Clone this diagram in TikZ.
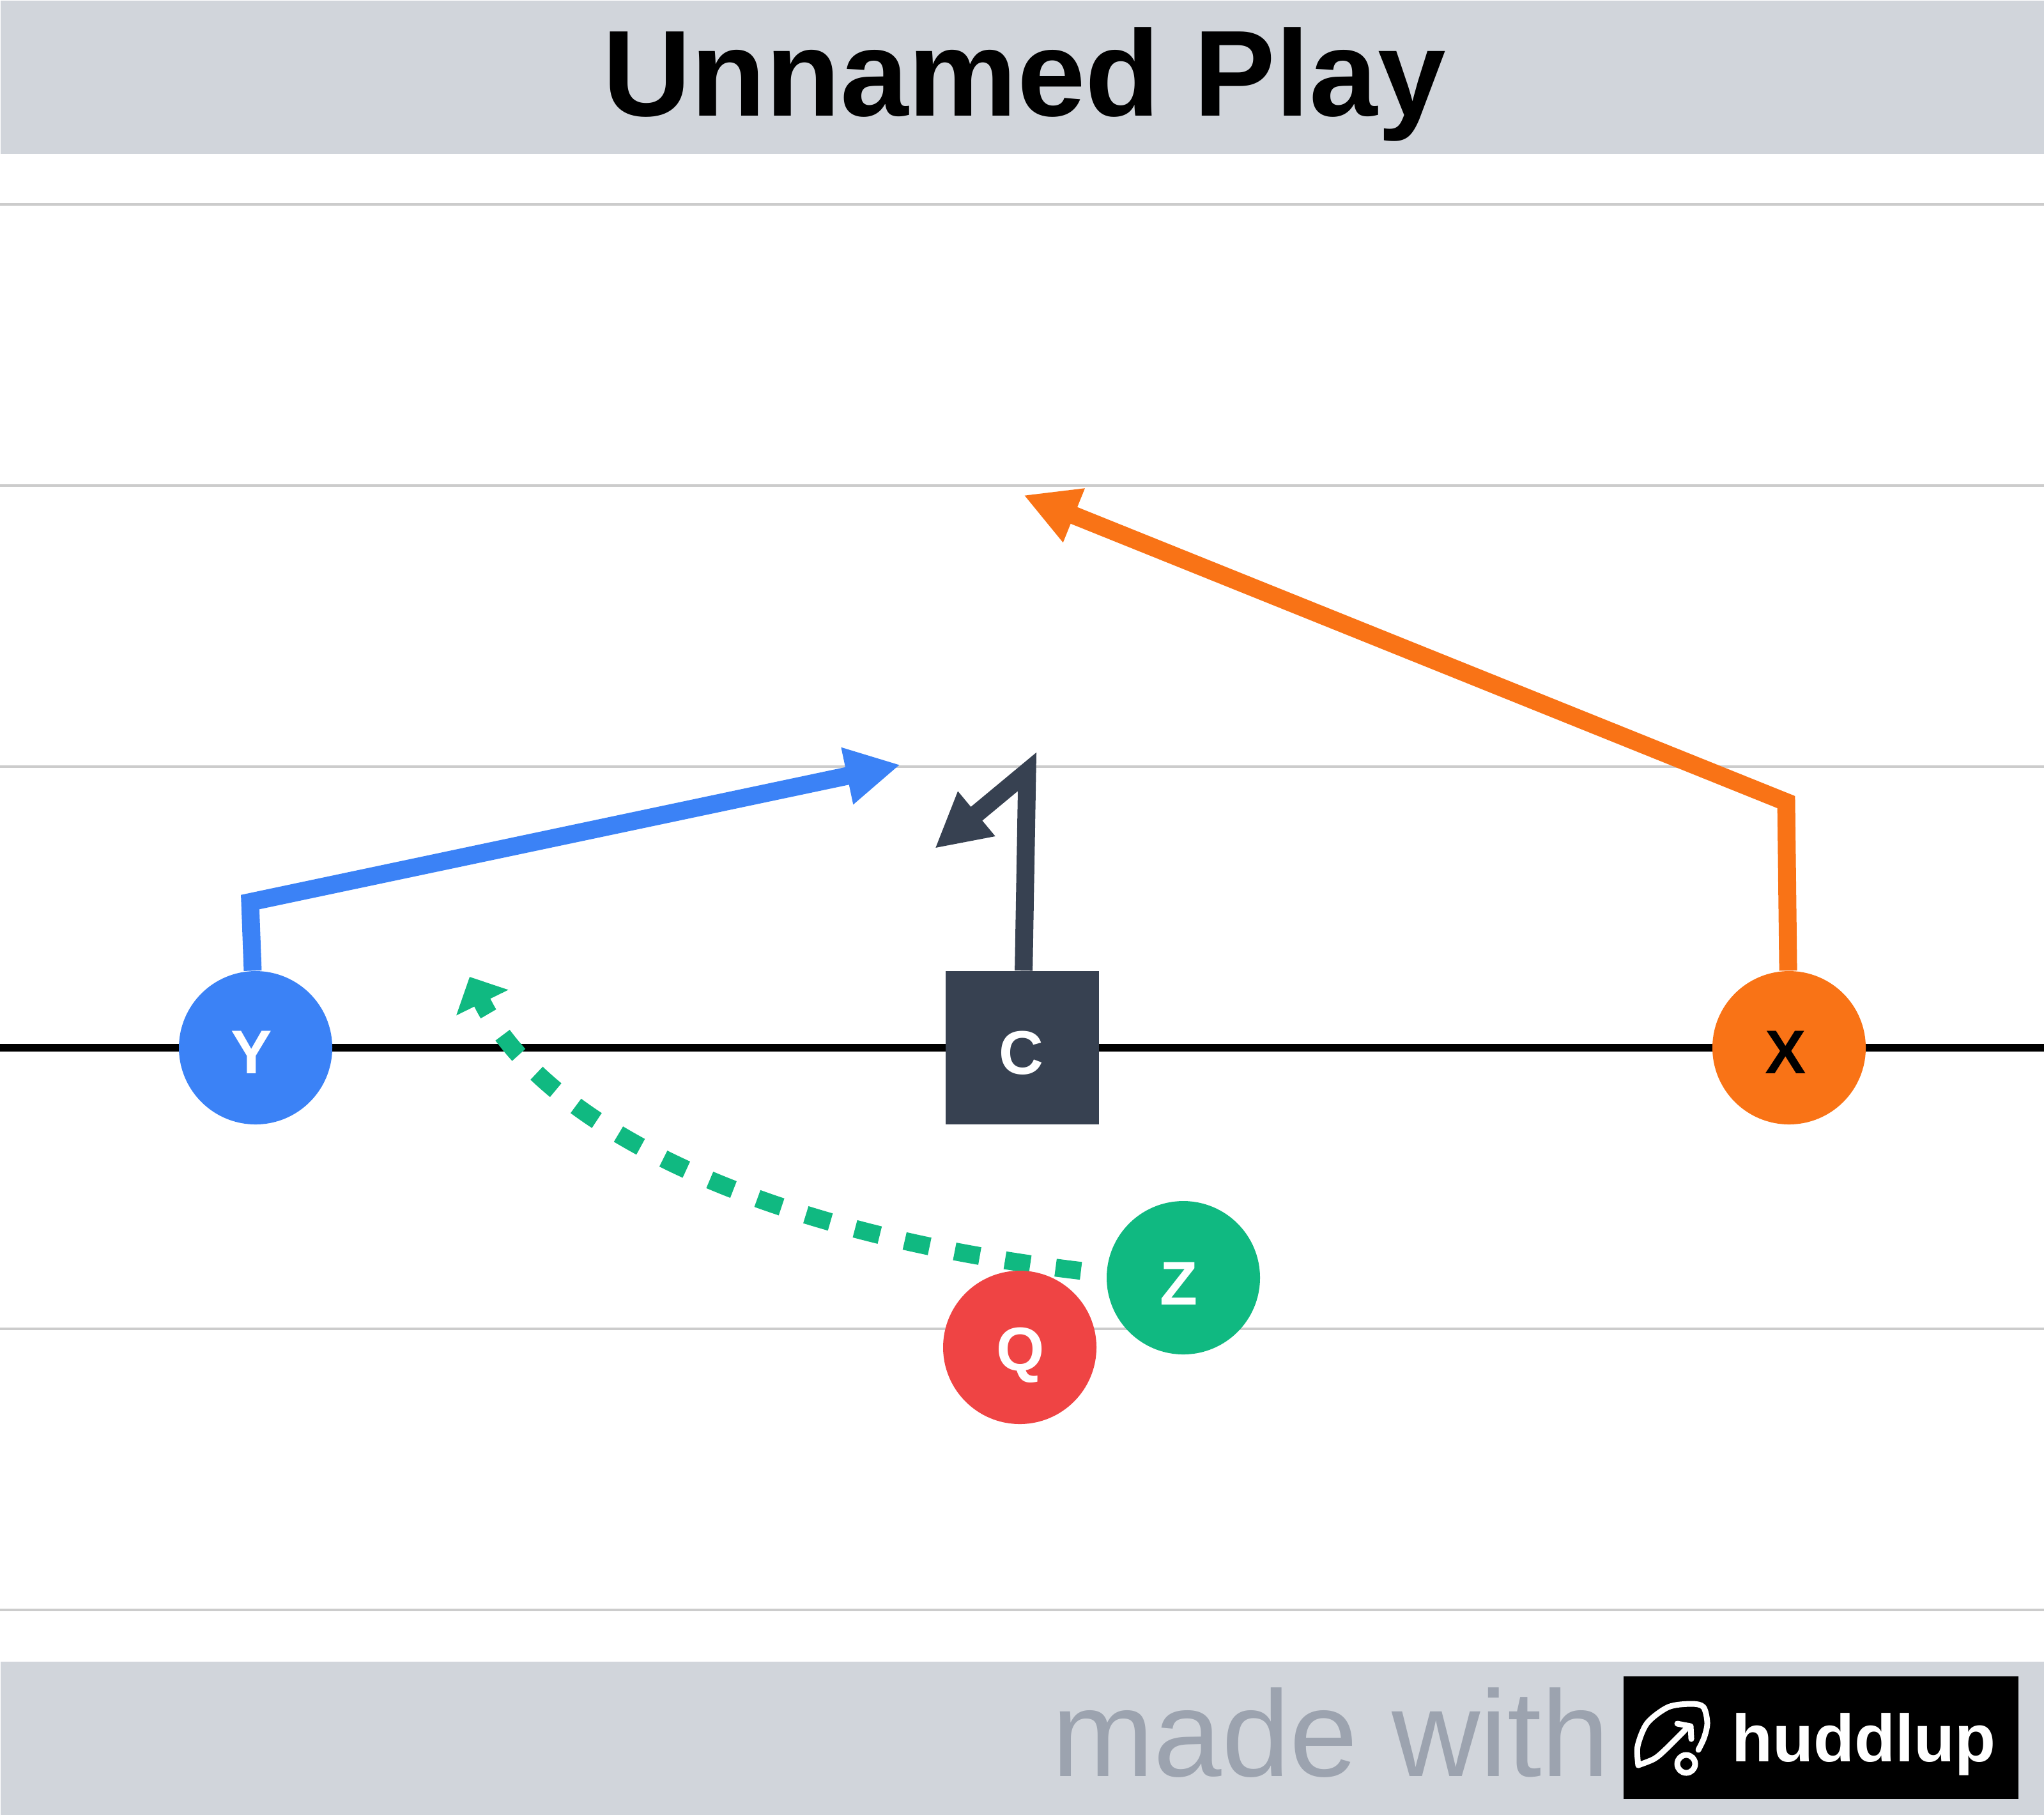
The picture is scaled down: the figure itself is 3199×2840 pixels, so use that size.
\documentclass[tikz,border=0pt]{standalone}
\usepackage{fontspec}
\setmainfont{Liberation Sans}
\usetikzlibrary{arrows.meta,backgrounds}
\definecolor{band}{HTML}{D1D5DB}
\definecolor{yard}{HTML}{CCCCCC}
\definecolor{wordmark}{HTML}{9CA3AF}
\definecolor{ycol}{HTML}{3B82F6}
\definecolor{xcol}{HTML}{F97316}
\definecolor{zcol}{HTML}{10B981}
\definecolor{qcol}{HTML}{EF4444}
\definecolor{ccol}{HTML}{374151}
\tikzset{
  bandbox/.style={fill=band,minimum width=319.9mm,minimum height=24mm,inner sep=0pt,anchor=north west},
  yardline/.style={yard,line width=0.4mm},
  player/.style={circle,fill=#1,minimum size=24mm,inner sep=0pt},
  center/.style={rectangle,fill=#1,minimum size=24mm,inner sep=0pt},
  tag/.style={font=\fontsize{27.5}{30}\selectfont\bfseries,inner sep=0pt,text=white},
  route/.style={line width=2.8mm,miter limit=10,-{Triangle[length=8.5mm,width=8.5mm]}},
  motion/.style={line width=2.8mm,dash pattern=on 4mm off 4mm,dash phase=4mm,-{Triangle[length=4.5mm,width=8.8mm]}},
  logoline/.style={white,line width=0.9mm,line cap=round,line join=round},
}
\begin{document}
\begin{tikzpicture}[x=0.1mm,y=-0.1mm]
  \useasboundingbox (0,0) rectangle (3199,2840);
  % header and footer
  \node[bandbox] (head) at (0,0) {};
  \node[bandbox] (foot) at (0,2600) {};
  \node[font=\fontsize{54.5}{60}\selectfont\bfseries,inner sep=0pt,anchor=base] (title) at (1603,181) {Unnamed Play};
  \node[font=\fontsize{54.5}{60}\selectfont,text=wordmark,inner sep=0pt,anchor=base east] (made) at (2520,2780) {made with};
  \node[fill=black,minimum width=61.8mm,minimum height=19.2mm,inner sep=0pt] (logo) at (2850,2720) {};
  \node[font=\fontsize{29.8}{32}\selectfont\bfseries,text=white,inner sep=0pt,anchor=base west] (huddlup) at (2710,2757) {huddlup};
  % logo mark
  \draw[logoline] plot[smooth] coordinates {(2564,2763) (2563,2733) (2578,2697) (2611,2672) (2647,2667) (2666,2672) (2672,2697) (2667,2720) (2658,2739)};
  \draw[logoline] plot[smooth] coordinates {(2564,2763) (2589,2753) (2607,2738) (2638,2707)};
  \draw[logoline] (2625,2698) -- (2646,2702) -- (2647,2722);
  \draw[logoline] (2639,2761) circle (14);
  % players
  \node[player=ycol,label={[tag,xshift=-0.6mm,yshift=-0.7mm]center:Y}] (Y) at (400,1640) {};
  \node[center=ccol,label={[tag,xshift=-0.2mm,yshift=-0.8mm]center:C}] (C) at (1600,1640) {};
  \node[player=xcol,label={[tag,text=black,xshift=-0.5mm,yshift=-0.7mm]center:X}] (X) at (2800,1640) {};
  \node[player=qcol,label={[tag,xshift=0.1mm,yshift=-1.2mm]center:Q}] (Q) at (1596,2109) {};
  \node[player=zcol,label={[tag,xshift=-0.7mm,yshift=-0.9mm]center:Z}] (Z) at (1852,2000) {};
  \coordinate (yTurn) at (391.5,1412);
  \coordinate (yEnd) at (1409,1197);
  \coordinate (cTurn) at (1607.5,1208);
  \coordinate (cEnd) at (1463,1328);
  \coordinate (xTurn) at (2795.5,1255.5);
  \coordinate (xEnd) at (1602,775);
  \coordinate (zEnd) at (735,1529);
  \begin{scope}[on background layer]
    % yard lines
    \foreach \yy in {320,760,1200,2080,2520}
      \draw[yardline] (0,\yy) -- (3199,\yy);
    \draw[black,line width=1.2mm] (0,1640) -- (3199,1640);
    % routes
    \draw[route,ycol] (Y) -- (yTurn) -- (yEnd);
    \draw[route,ccol] (C) -- (cTurn) -- (cEnd);
    \draw[route,xcol] (X) -- (xTurn) -- (xEnd);
    \draw[motion,zcol] (Z.177) .. controls (1179,1935) and (846,1755) .. (zEnd);
  \end{scope}
\end{tikzpicture}
\end{document}
